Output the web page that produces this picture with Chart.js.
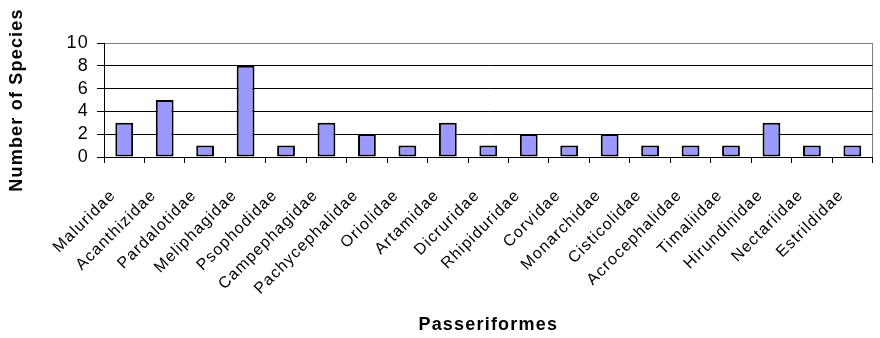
<!DOCTYPE html>
<html>
<head>
<meta charset="utf-8">
<script src="https://cdn.jsdelivr.net/npm/chart.js@4/dist/chart.umd.min.js"></script>
<style>
	html, body { margin: 0; padding: 0; background: #fff; }
	#wrap { width: 880px; height: 338px; }
</style>
</head>
<body>
<div id="wrap"><canvas id="chart" width="880" height="338"></canvas></div>
<script>
var families = [
	'Maluridae', 'Acanthizidae', 'Pardalotidae', 'Meliphagidae', 'Psophodidae',
	'Campephagidae', 'Pachycephalidae', 'Oriolidae', 'Artamidae', 'Dicruridae',
	'Rhipiduridae', 'Corvidae', 'Monarchidae', 'Cisticolidae', 'Acrocephalidae',
	'Timaliidae', 'Hirundinidae', 'Nectariidae', 'Estrildidae'
];
var speciesCount = [ 3, 5, 1, 8, 1, 3, 2, 1, 3, 1, 2, 1, 2, 1, 1, 1, 3, 1, 1 ];
var yTicks = [ 0, 2, 4, 6, 8, 10 ];

var FONT = '"Liberation Sans", Arial, sans-serif';

// excel-ish wide letter spacing, and slide the slanted labels along their slope
var tweaks = {
	id: 'tweaks',
	beforeDraw: function ( chart ) {
		chart.ctx.letterSpacing = '1.2px';
		var items = chart.scales.x.getLabelItems();
		if ( items._moved ) { return; }
		items.forEach( function ( it ) {
			var t = it.options.translation;
			it.options.translation = [ t[0] - 11, t[1] + 9 ];
		} );
		items._moved = true;
	}
};

new Chart( document.getElementById( 'chart' ), {
	type: 'bar',
	data: {
		labels: families,
		datasets: [ {
			data: speciesCount,
			backgroundColor: '#9999FF',
			borderColor: '#000000',
			borderWidth: 2,
			borderSkipped: false,
			barPercentage: 0.44,
			categoryPercentage: 1,
		} ],
	},
	plugins: [ tweaks ],
	options: {
		responsive: false,
		animation: false,
		layout: { padding: { top: 43, right: 3, left: 0, bottom: 0 } },
		plugins: { legend: { display: false }, tooltip: { enabled: false } },
		scales: {
			x: {
				grid: {
					offset: true,
					drawOnChartArea: true,
					color: function ( c ) { return c.type === 'scale' ? '#808080' : 'rgba(0,0,0,0)'; },
					tickColor: '#000',
					tickLength: 6,
				},
				border: { color: '#000', width: 1 },
				ticks: {
					autoSkip: false,
					minRotation: 45,
					maxRotation: 45,
					padding: 14,
					color: '#000',
					font: { family: FONT, size: 16 },
				},
				title: {
					display: true,
					text: 'Passeriformes',
					color: '#000',
					font: { family: FONT, size: 18, weight: 'bold' },
					padding: { top: 0, bottom: 2 },
				},
				afterFit: function ( s ) { s.height = 181; },
			},
			y: {
				min: 0,
				max: 10,
				afterBuildTicks: function ( s ) {
					s.ticks = yTicks.map( function ( v ) { return { value: v }; } );
				},
				grid: {
					color: function ( c ) { return c.tick && c.tick.value === 10 ? '#808080' : '#000'; },
					tickColor: '#000',
					tickLength: 7,
				},
				border: { color: '#000', width: 1 },
				ticks: {
					autoSkip: false,
					padding: 8,
					color: '#000',
					font: { family: FONT, size: 18 },
				},
				title: {
					display: true,
					text: 'Number of Species',
					color: '#000',
					font: { family: FONT, size: 18, weight: 'bold' },
					padding: { top: 6, bottom: 0 },
				},
				afterFit: function ( s ) { s.width = 104; },
			},
		},
	},
} );
</script>
</body>
</html>
